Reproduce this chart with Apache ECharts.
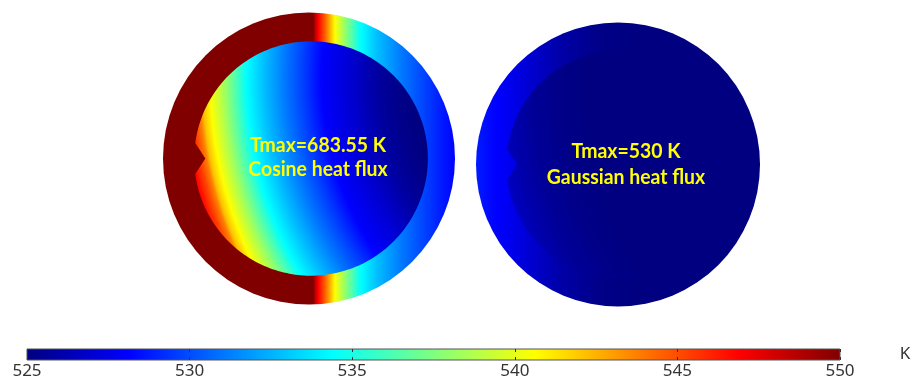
<!DOCTYPE html>
<html>
<head>
<meta charset="utf-8">
<script src="https://cdn.jsdelivr.net/npm/echarts@6/dist/echarts.min.js"></script>
<style>
html, body { margin: 0; padding: 0; background: #fff; }
#chart { width: 914px; height: 380px; }
</style>
</head>
<body>
<div id="chart"></div>
<script>
// ---- Colour scale (K) ----
const scaleMin = 525;
const scaleMax = 550;
const scaleTicks = [525, 530, 535, 540, 545, 550];
const scaleUnit = 'K';

// ---- Cases ----
const caseTitles = ['Cosine heat flux', 'Gaussian heat flux'];
const caseTmax = [683.55, 530];

// ---- Temperature profiles along the horizontal diameter ----
// x is normalised by the outer radius: -1 = heated (left) side, +1 = far side.
// Wall = outer ring, core = inner region.
const cosineWallX = [-1.0, -0.5, -0.1, 0.027, 0.062, 0.11, 0.178, 0.247, 0.349, 0.466, 0.623, 0.76, 0.93, 1.0];
const cosineWallT = [683.55, 650, 580, 550, 547, 544.5, 540.6, 538, 534.5, 532.8, 531.2, 530.0, 528.6, 528.2];
const cosineCoreX = [-0.80, -0.747, -0.699, -0.678, -0.623, -0.521, -0.37, -0.247, -0.11, 0.027, 0.164, 0.37, 0.555, 0.692, 0.83];
const cosineCoreT = [546.8, 545.3, 543.7, 542.2, 540.6, 538.3, 534.4, 532.8, 531.2, 529.7, 528.1, 527.0, 525.8, 525.3, 525.0];

const gaussWallX = [-1.0, -0.90, -0.796, -0.62, -0.41, -0.127, 0.155, 1.0];
const gaussWallT = [528.8, 528.3, 527.9, 527.0, 526.0, 525.2, 525.0, 524.6];
const gaussCoreX = [-0.80, -0.69, -0.55, -0.34, -0.13, 1.0];
const gaussCoreT = [526.6, 526.1, 525.6, 525.2, 525.0, 524.6];

// ---- Section geometry (normalised units) ----
const geom = {
  coreCx: 0.014,      // inner region centre offset
  coreR: 0.80,        // inner region radius
  notchHalf: 0.105,   // half height of the V notch
  notchTip: -0.71,    // x of the notch tip
  focus: [2.24, 0.56],// centre of the curved isotherms in the core
  focusR: 3.5
};

// ---- Jet colour map ----
const jetKnots = [
  [0, [0, 0, 128]], [0.125, [0, 0, 255]], [0.375, [0, 255, 255]],
  [0.625, [255, 255, 0]], [0.875, [255, 0, 0]], [1, [128, 0, 0]]
];
function jetColor(t) {
  let f = (t - scaleMin) / (scaleMax - scaleMin);
  f = Math.max(0, Math.min(1, f));
  for (let i = 0; i < jetKnots.length - 1; i++) {
    const [f0, c0] = jetKnots[i], [f1, c1] = jetKnots[i + 1];
    if (f <= f1) {
      const u = (f - f0) / (f1 - f0);
      const c = c0.map((v, k) => Math.round(v + (c1[k] - v) * u));
      return 'rgb(' + c.join(',') + ')';
    }
  }
  return 'rgb(128,0,0)';
}
const knotTemps = jetKnots.map(k => scaleMin + k[0] * (scaleMax - scaleMin));

// Gradient stops for a sampled profile; colour-map breakpoints are added
// between samples so the piecewise-linear map is reproduced exactly.
function profileStops(xs, ts, toOffset) {
  const stops = [];
  for (let i = 0; i < xs.length; i++) {
    stops.push({ offset: toOffset(xs[i]), color: jetColor(ts[i]) });
    if (i < xs.length - 1) {
      const t0 = ts[i], t1 = ts[i + 1];
      knotTemps.forEach(k => {
        if ((k - t0) * (k - t1) < 0) {
          const x = xs[i] + (k - t0) / (t1 - t0) * (xs[i + 1] - xs[i]);
          stops.push({ offset: toOffset(x), color: jetColor(k) });
        }
      });
    }
  }
  stops.sort((a, b) => a.offset - b.offset);
  return stops.map(s => ({ offset: Math.max(0, Math.min(1, s.offset)), color: s.color }));
}

const profiles = [
  { wallX: cosineWallX, wallT: cosineWallT, coreX: cosineCoreX, coreT: cosineCoreT },
  { wallX: gaussWallX, wallT: gaussWallT, coreX: gaussCoreX, coreT: gaussCoreT }
];

function makeSectionRenderer(p) {
  return function (params, api) {
    const region = api.value(0);
    const c = api.coord([0, 0]);
    const unit = api.size([1, 1])[0];
    if (region === 0) {
      const x0 = api.coord([-1, 0])[0], x1 = api.coord([1, 0])[0];
      const fill = new echarts.graphic.LinearGradient(x0, c[1], x1, c[1],
        profileStops(p.wallX, p.wallT, x => (x + 1) / 2), true);
      return { type: 'circle', shape: { cx: c[0], cy: c[1], r: unit }, style: { fill: fill } };
    }
    // inner region: circle with a V notch cut in on the heated side
    const pts = [];
    const a = Math.asin(geom.notchHalf / geom.coreR);
    const n = 240;
    for (let i = 0; i <= n; i++) {
      const th = -Math.PI + a + 2 * (Math.PI - a) * i / n;
      pts.push(api.coord([geom.coreCx + geom.coreR * Math.cos(th), geom.coreR * Math.sin(th)]));
    }
    pts.push(api.coord([geom.notchTip, 0]));
    const f = api.coord(geom.focus);
    const dist = x => Math.hypot(x - geom.focus[0], geom.focus[1]) / geom.focusR;
    const fill = new echarts.graphic.RadialGradient(f[0], f[1], geom.focusR * unit,
      profileStops(p.coreX, p.coreT, dist), true);
    return { type: 'polygon', shape: { points: pts }, style: { fill: fill } };
  };
}

const hiddenAxis = { type: 'value', min: -1, max: 1, show: false };
const textFont = 'Lato';
const labelFont = 'Noto Sans';

const option = {
  animation: false,
  backgroundColor: '#ffffff',
  grid: [
    { left: 163, top: 12, width: 292, height: 293 },
    { left: 476, top: 22, width: 284, height: 285 },
    { left: 27, top: 349, width: 813, height: 13 }
  ],
  xAxis: [
    Object.assign({ gridIndex: 0 }, hiddenAxis),
    Object.assign({ gridIndex: 1 }, hiddenAxis),
    {
      gridIndex: 2, type: 'value', min: scaleMin, max: scaleMax, interval: 5, z: 5,
      axisLine: { show: false }, splitLine: { show: false },
      axisTick: { show: true, inside: true, length: 3, lineStyle: { color: '#333', width: 1 } },
      axisLabel: { show: true, margin: 3, fontSize: 17, color: '#333', fontFamily: labelFont,
        formatter: v => scaleTicks.indexOf(v) >= 0 ? String(v) : '' }
    },
    {
      gridIndex: 2, type: 'value', position: 'top', min: scaleMin, max: scaleMax, interval: 5, z: 5,
      axisLine: { show: false }, splitLine: { show: false }, axisLabel: { show: false },
      axisTick: { show: true, inside: true, length: 3, lineStyle: { color: '#333', width: 1 } }
    }
  ],
  yAxis: [
    Object.assign({ gridIndex: 0 }, hiddenAxis),
    Object.assign({ gridIndex: 1 }, hiddenAxis),
    { gridIndex: 2, type: 'value', min: 0, max: 1, show: false }
  ],
  series: [
    {
      type: 'custom', xAxisIndex: 0, yAxisIndex: 0, silent: true,
      data: [[0, 0], [1, 0]], renderItem: makeSectionRenderer(profiles[0])
    },
    {
      type: 'custom', xAxisIndex: 1, yAxisIndex: 1, silent: true,
      data: [[0, 0], [1, 0]], renderItem: makeSectionRenderer(profiles[1])
    },
    {
      type: 'custom', xAxisIndex: 2, yAxisIndex: 2, silent: true, z: 1,
      data: [[scaleMin, 0]],
      renderItem: function (params, api) {
        const p0 = api.coord([scaleMin, 1]);
        const p1 = api.coord([scaleMax, 0]);
        const fill = new echarts.graphic.LinearGradient(p0[0], 0, p1[0], 0,
          jetKnots.map(k => ({ offset: k[0], color: 'rgb(' + k[1].join(',') + ')' })), true);
        return {
          type: 'rect',
          shape: { x: p0[0], y: p0[1], width: p1[0] - p0[0], height: p1[1] - p0[1] },
          style: { fill: fill, stroke: '#555', lineWidth: 1 }
        };
      }
    }
  ],
  graphic: [
    {
      type: 'text', x: 318, y: 157, z: 10, scaleX: 0.925,
      style: {
        text: 'Tmax=' + caseTmax[0] + ' K\n' + caseTitles[0],
        fill: '#ffff00', fontSize: 21, fontWeight: 'bold', fontFamily: textFont,
        lineHeight: 24, align: 'center', verticalAlign: 'middle'
      }
    },
    {
      type: 'text', x: 626, y: 164, z: 10, scaleX: 0.925,
      style: {
        text: 'Tmax=' + caseTmax[1] + ' K\n' + caseTitles[1],
        fill: '#ffff00', fontSize: 21, fontWeight: 'bold', fontFamily: textFont,
        lineHeight: 26, align: 'center', verticalAlign: 'middle'
      }
    },
    {
      type: 'text', x: 905, y: 354, z: 10,
      style: {
        text: scaleUnit, fill: '#333', fontSize: 17, fontFamily: labelFont,
        align: 'center', verticalAlign: 'middle'
      }
    }
  ]
};

const chart = echarts.init(document.getElementById('chart'), null, { renderer: 'canvas' });
chart.setOption(option);
</script>
</body>
</html>
